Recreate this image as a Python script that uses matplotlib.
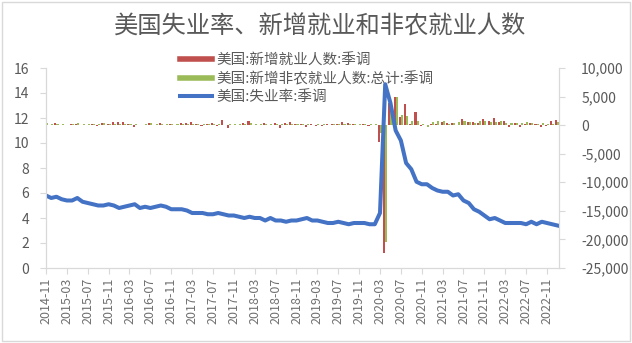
import numpy as np
import pandas as pd
import matplotlib
matplotlib.use("Agg")
from matplotlib import pyplot as plt
from matplotlib.lines import Line2D
from matplotlib.ticker import FuncFormatter, MultipleLocator

plt.rcParams['font.family'] = ['Noto Sans CJK SC', 'DejaVu Sans']

title = "美国失业率、新增就业和非农就业人数"
label_hh = "美国:新增就业人数:季调"
label_nfp = "美国:新增非农就业人数:总计:季调"
label_ur = "美国:失业率:季调"

months = pd.period_range("2014-11", "2023-01", freq="M")
tick_labels = [m.strftime("%Y-%m") for m in months]

# 失业率 (%)
unemp = [5.8, 5.6,
         5.7, 5.5, 5.4, 5.4, 5.6, 5.3, 5.2, 5.1, 5.0, 5.0, 5.1, 5.0,
         4.8, 4.9, 5.0, 5.1, 4.8, 4.9, 4.8, 4.9, 5.0, 4.9, 4.7, 4.7,
         4.7, 4.6, 4.4, 4.4, 4.4, 4.3, 4.3, 4.4, 4.3, 4.2, 4.2, 4.1,
         4.0, 4.1, 4.0, 4.0, 3.8, 4.0, 3.8, 3.8, 3.7, 3.8, 3.8, 3.9,
         4.0, 3.8, 3.8, 3.7, 3.6, 3.6, 3.7, 3.6, 3.5, 3.6, 3.6, 3.6,
         3.5, 3.5, 4.4, 14.7, 13.2, 11.0, 10.2, 8.4, 7.9, 6.9, 6.7, 6.7,
         6.4, 6.2, 6.1, 6.1, 5.8, 5.9, 5.4, 5.2, 4.7, 4.5, 4.2, 3.9,
         4.0, 3.8, 3.6, 3.6, 3.6, 3.6, 3.5, 3.7, 3.5, 3.7, 3.6, 3.5,
         3.4]

# 新增就业人数 (千人, 家庭调查)
household = [4, 111,
             435, 96, 34, 192, 272, 56, 101, 196, -236, 320, 244, 485,
             615, 530, 246, -316, 26, 67, 420, 97, 354, -43, 160, 63,
             457, 447, 472, 156, -233, 245, 345, -74, 906, -484, 57, 104,
             409, 785, -37, 3, 293, 102, 389, -423, 420, 600, 233, 142,
             -251, 255, -201, -103, 113, 247, 283, 590, 339, 241, 83, 267,
             -89, 45, -2987, -22369, 3839, 4940, 1350, 3756, 275, 2243, -173, 21,
             201, 208, 609, 328, 444, 18, 1043, 509, 526, 359, 1136, 651,
             1199, 548, 736, -353, 321, -315, 179, 442, 204, -328, -138, 717,
             894]

# 新增非农就业人数 (千人)
nonfarm = [290, 270,
           190, 271, 70, 251, 339, 176, 272, 151, 131, 301, 230, 274,
           122, 244, 240, 171, 37, 283, 355, 162, 244, 123, 165, 239,
           236, 192, 124, 173, 155, 220, 183, 175, 10, 248, 217, 183,
           175, 313, 150, 163, 275, 212, 121, 205, 118, 274, 164, 209,
           275, 13, 172, 267, 69, 197, 142, 207, 209, 208, 250, 137,
           259, 272, -1373, -20477, 2833, 4846, 1726, 1583, 716, 680, 263, -268,
           520, 710, 704, 263, 447, 557, 689, 517, 424, 677, 647, 588,
           504, 714, 398, 368, 386, 293, 537, 315, 263, 324, 263, 239,
           517]

red = "#c0504d"
green = "#9bbb59"
blue = "#4472c4"
gray = "#595959"
axis_gray = "#d9d9d9"

fig = plt.figure(figsize=(6.32, 3.43), dpi=100)
x = np.arange(len(months))

ax_b = fig.add_axes([46 / 632, 1 - 268 / 343, 513 / 632, 200 / 343])
ax_l = ax_b.twinx()

ax_b.bar(x - 0.2, household, width=0.4, color=red)
ax_b.bar(x + 0.2, nonfarm, width=0.4, color=green)
ax_l.plot(x, unemp, color=blue, lw=2.9, solid_joinstyle="round")

ax_b.set_xlim(0, 98.3)
ax_b.set_ylim(-25000, 10000)
ax_b.yaxis.set_major_locator(MultipleLocator(5000))
ax_b.yaxis.set_major_formatter(FuncFormatter(lambda v, p: f"{v:,.0f}"))
ax_l.set_ylim(0, 16)
ax_l.yaxis.set_major_locator(MultipleLocator(2))

# bars on right scale, line on left scale
ax_b.yaxis.tick_right()
ax_l.yaxis.tick_left()

ax_b.set_xticks(x[::4])
ax_b.set_xticklabels(tick_labels[::4], rotation=90)

for a in (ax_b, ax_l):
    a.spines["top"].set_visible(False)
    for s in ("left", "right", "bottom"):
        a.spines[s].set_color(axis_gray)
    a.tick_params(colors=axis_gray, labelcolor=gray, labelsize=10, length=4, pad=8)
ax_b.tick_params(axis="x", labelsize=9, pad=3, labelcolor="#707070")
ax_b.tick_params(axis="y", pad=12)

fig.text(0.506, 1 - 27 / 343, title, ha="center", va="center",
         fontsize=17.5, color=gray, fontweight="light")

handles = [Line2D([], [], color=red, lw=4),
           Line2D([], [], color=green, lw=4),
           Line2D([], [], color=blue, lw=2.9)]
fig.legend(handles, [label_hh, label_nfp, label_ur], loc="upper left",
           bbox_to_anchor=(180 / 632, 1 - 53 / 343), frameon=False,
           fontsize=10.5, labelcolor=gray, handlelength=2.2, handletextpad=0.3,
           labelspacing=0.3, borderpad=0, borderaxespad=0)

fig.patches.append(plt.Rectangle((0.003, 0.005), 0.994, 0.99, transform=fig.transFigure,
                                 fill=False, edgecolor=axis_gray, lw=1))

fig.savefig("out.png", dpi=100)
